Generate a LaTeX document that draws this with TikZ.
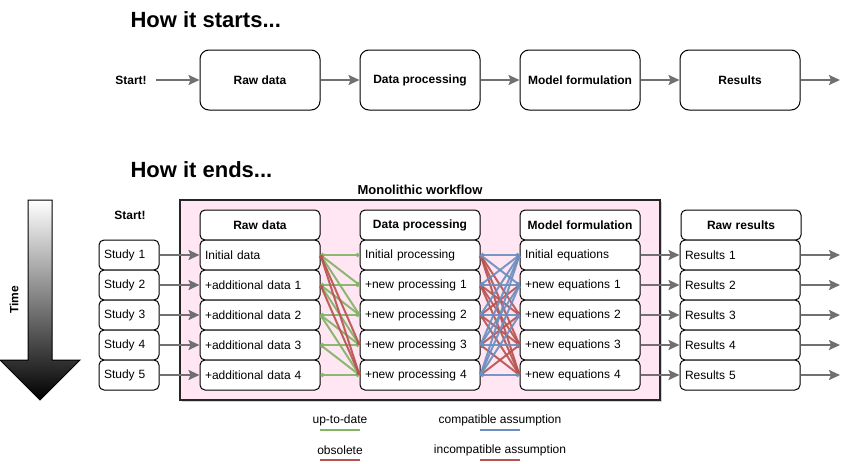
\documentclass[tikz,border=0pt]{standalone}
\usepackage{fontspec}
\setmainfont{Liberation Sans}
\usetikzlibrary{positioning,arrows.meta,shadows}

\definecolor{flowgray}{HTML}{707070}
\definecolor{monopink}{HTML}{FFE6F2}
\definecolor{okgreen}{HTML}{82B366}
\definecolor{badred}{HTML}{B85450}
\definecolor{okblue}{HTML}{6C8EBF}

\begin{document}
\begin{tikzpicture}
[
	x=1pt, y=-1pt,
	every node/.style={font=\fontsize{12}{14}\selectfont},
	bold/.style={font=\fontsize{12}{14}\selectfont\bfseries},
	title/.style={font=\fontsize{22}{26}\selectfont\bfseries, anchor=west},
	stepbox/.style={draw, line width=1pt, fill=white, rounded corners=9pt, minimum width=120pt, minimum height=60pt, bold},
	rowbox/.style={draw, line width=1pt, fill=white, rounded corners=5pt, minimum height=30pt, text width=110pt, inner xsep=5pt, align=left},
	headbox/.style={rowbox, align=center, bold},
	studybox/.style={rowbox, text width=50pt},
	flow/.style={draw=flowgray, line width=2pt, -{Stealth[length=11pt,width=10pt,inset=2pt]}},
	link/.style={line width=2pt, opacity=0.9, {Circle[length=4pt]}-{Circle[length=4pt]}},
	uptodate/.style={draw=okgreen, fill=okgreen},
	obsolete/.style={draw=badred, fill=badred},
	compat/.style={draw=okblue, fill=okblue},
	incompat/.style={draw=badred, fill=badred}
]

	\useasboundingbox (0,0) rectangle (850,463);

	% how it starts
	\node[title] (starts) at (127,20) {How it starts...};
	\node[bold] (start) at (131,80) {Start!};
	\node[stepbox] (raw) at (260,80) {Raw data};
	\node[stepbox] (proc) at (420,80) {Data processing};
	\node[stepbox] (model) at (580,80) {Model formulation};
	\node[stepbox] (res) at (740,80) {Results};
	\coordinate (out) at (840,80);

	\draw[flow] ([xshift=6pt]start.east) -- (raw);
	\draw[flow] (raw) -- (proc);
	\draw[flow] (proc) -- (model);
	\draw[flow] (model) -- (res);
	\draw[flow] (res) -- (out);

	% how it ends
	\node[title] (ends) at (127,170) {How it ends...};

	% time arrow
	\shade[top color=white, bottom color=black, draw=black, line width=1pt]
		(28,200) -- (52,200) -- (52,360) -- (80,360) -- (40,400) -- (0,360) -- (28,360) -- cycle;
	\node[bold, rotate=90] (time) at (14,300) {Time};

	% monolithic workflow
	\node[bold, font=\fontsize{13}{15}\selectfont\bfseries] (monolbl) at (420,190) {Monolithic workflow};
	\node[draw=black!85, line width=2pt, fill=monopink, minimum width=480pt, minimum height=200pt,
		drop shadow={shadow xshift=2pt, shadow yshift=-2pt, opacity=0.35}] (mono) at (420,300) {};

	\node[bold] (start2) at (130,215) {Start!};

	% columns
	\node[headbox] (dathead) at (260,225) {Raw data};
	\node[rowbox] (dat1) at (260,255) {Initial data};
	\foreach \k [count=\n from 2] in {1,...,4}
		\node[rowbox] (dat\n) at (260,{225+30*\n}) {+additional data \k};

	\node[headbox] (prchead) at (420,225) {Data processing};
	\node[rowbox] (prc1) at (420,255) {Initial processing};
	\foreach \k [count=\n from 2] in {1,...,4}
		\node[rowbox] (prc\n) at (420,{225+30*\n}) {+new processing \k};

	\node[headbox] (eqnhead) at (580,225) {Model formulation};
	\node[rowbox] (eqn1) at (580,255) {Initial equations};
	\foreach \k [count=\n from 2] in {1,...,4}
		\node[rowbox] (eqn\n) at (580,{225+30*\n}) {+new equations \k};

	\node[headbox, right=40pt of eqnhead] (rslhead) {Raw results};
	\foreach \n in {1,...,5} {
		\node[rowbox] (rsl\n) at (740,{225+30*\n}) {Results \n};
		\node[studybox, left=40pt of dat\n] (study\n) {Study \n};
		\coordinate (out\n) at (840,{225+30*\n});
		\draw[flow] (study\n) -- (dat\n);
		\draw[flow] (eqn\n) -- (rsl\n);
		\draw[flow] (rsl\n) -- (out\n);
	}

	% raw data -> processing
	\foreach \a/\b/\c in {1/1/uptodate, 1/2/uptodate, 1/3/uptodate, 2/2/uptodate, 2/3/uptodate, 2/4/uptodate,
		3/3/uptodate, 3/4/uptodate, 3/5/uptodate, 4/4/uptodate, 4/5/uptodate, 5/5/uptodate,
		1/4/obsolete, 1/5/obsolete, 2/5/obsolete}
		\draw[link, \c] (dat\a.east) -- (prc\b.west);

	% processing -> model
	\foreach \a/\b/\c in {1/3/incompat, 1/4/incompat, 1/5/incompat, 2/3/incompat, 2/4/incompat, 2/5/incompat,
		3/2/incompat, 3/4/incompat, 3/5/incompat, 4/3/incompat, 4/5/incompat, 5/4/incompat,
		1/1/compat, 1/2/compat, 2/1/compat, 2/2/compat, 3/1/compat, 3/3/compat,
		4/1/compat, 4/2/compat, 4/4/compat, 5/1/compat, 5/2/compat, 5/3/compat, 5/5/compat}
		\draw[link, \c] (prc\a.east) -- (eqn\b.west);

	% legend
	\node (lgok) at (340,420) {up-to-date};
	\node (lgold) at (340,450) {obsolete};
	\node (lgcomp) at (500,420) {compatible assumption};
	\node (lgincomp) at (500,450) {incompatible assumption};
	\coordinate (okl) at (320,430);   \coordinate (okr) at (360,430);
	\coordinate (oldl) at (320,460);  \coordinate (oldr) at (360,460);
	\coordinate (compl) at (480,430); \coordinate (compr) at (520,430);
	\coordinate (incl) at (480,460);  \coordinate (incr) at (520,460);
	\draw[uptodate, line width=2pt] (okl) -- (okr);
	\draw[obsolete, line width=2pt] (oldl) -- (oldr);
	\draw[compat, line width=2pt] (compl) -- (compr);
	\draw[incompat, line width=2pt] (incl) -- (incr);

\end{tikzpicture}
\end{document}
